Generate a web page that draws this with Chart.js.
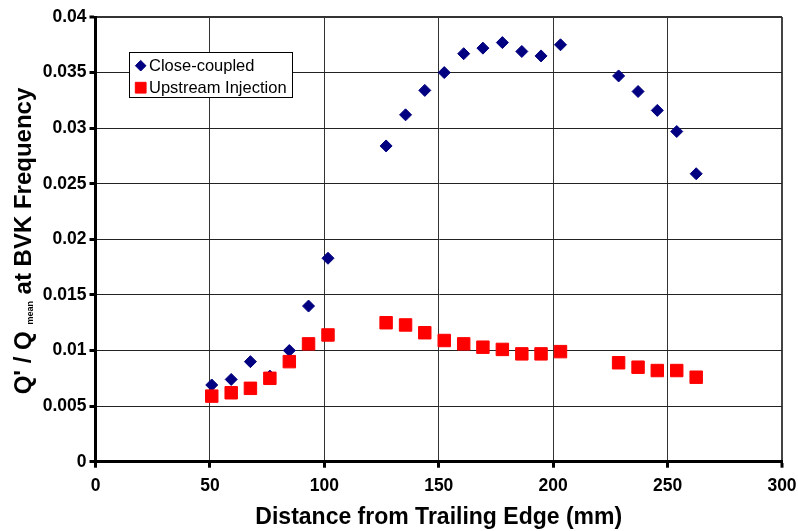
<!DOCTYPE html>
<html>
<head>
<meta charset="utf-8">
<script src="https://cdn.jsdelivr.net/npm/chart.js@4/dist/chart.umd.min.js"></script>
<style>
  html, body { margin: 0; padding: 0; background: #fff; }
  #wrap { width: 798px; height: 531px; }
</style>
</head>
<body>
<div id="wrap"><canvas id="qChart" width="798" height="531"></canvas></div>
<script>
// distance from trailing edge (mm)
const distance = [50.8, 59.3, 67.7, 76.2, 84.7, 93.1, 101.6, 127.0, 135.5, 143.9, 152.4,
                  160.9, 169.3, 177.8, 186.3, 194.7, 203.2, 228.6, 237.1, 245.5, 254.0, 262.5];
// Q'/Qmean at BVK frequency
const closeCoupled = [0.0069, 0.0074, 0.0090, 0.0077, 0.0100, 0.0140, 0.0183, 0.0284, 0.0312, 0.0334, 0.0350,
                      0.0367, 0.0372, 0.0377, 0.0369, 0.0365, 0.0375, 0.0347, 0.0333, 0.0316, 0.0297, 0.0259];
const upstreamInjection = [0.0059, 0.0062, 0.0066, 0.0075, 0.0090, 0.0106, 0.0114, 0.0125, 0.0123, 0.0116, 0.0109,
                           0.0106, 0.0103, 0.0101, 0.0097, 0.0097, 0.0099, 0.0089, 0.0085, 0.0082, 0.0082, 0.0076];
const seriesNames = ['Close-coupled', 'Upstream Injection'];
const xTicks = [0, 50, 100, 150, 200, 250, 300];
const yTicks = [0, 0.005, 0.01, 0.015, 0.02, 0.025, 0.03, 0.035, 0.04];

const FONT = 'Arial, "Liberation Sans", sans-serif';

function toPoints(ys) {
    return distance.map((x, i) => ({ x: x, y: ys[i] }));
}

// boxed legend sitting inside the plot area
const boxLegend = {
    id: 'boxLegend',
    afterDatasetsDraw(chart) {
        const ctx = chart.ctx;
        ctx.save();
        ctx.fillStyle = '#fff';
        ctx.strokeStyle = '#000';
        ctx.lineWidth = 1;
        ctx.fillRect(129.5, 52.5, 163, 45);
        ctx.strokeRect(129.5, 52.5, 163, 45);
        const rows = [65.7, 87.7];
        const legendRadius = { rectRot: 5.3, rect: 7.6 };
        chart.data.datasets.forEach((ds, i) => {
            const y = rows[i];
            ctx.fillStyle = ds.backgroundColor;
            ctx.strokeStyle = ds.borderColor;
            Chart.helpers.drawPoint(ctx, {
                pointStyle: ds.pointStyle,
                radius: legendRadius[ds.pointStyle],
                borderWidth: 1,
                rotation: 0
            }, 140.7, y);
            ctx.fillStyle = '#000';
            ctx.font = '16.5px ' + FONT;
            ctx.textAlign = 'left';
            ctx.textBaseline = 'middle';
            ctx.fillText(ds.label, 149, y + 0.5);
        });
        ctx.restore();
    }
};

// rotated y title with the "mean" subscript
const yTitle = {
    id: 'yTitle',
    afterDraw(chart) {
        const ctx = chart.ctx;
        const big = 'bold 24px ' + FONT;
        const small = 'bold 9px ' + FONT;
        const parts = [
            { t: "Q' / Q ", f: big, dy: 0 },
            { t: 'mean', f: small, dy: 1.5 },
            { t: ' at BVK Frequency', f: big, dy: 0 }
        ];
        let total = 0;
        parts.forEach(p => { ctx.font = p.f; p.w = ctx.measureText(p.t).width; total += p.w; });
        ctx.save();
        ctx.translate(31, 241);
        ctx.rotate(-Math.PI / 2);
        ctx.fillStyle = '#000';
        ctx.textBaseline = 'alphabetic';
        ctx.textAlign = 'left';
        let x = -total / 2;
        parts.forEach(p => {
            ctx.font = p.f;
            ctx.fillText(p.t, x, p.dy);
            x += p.w;
        });
        ctx.restore();
    }
};

const ctx = document.getElementById('qChart').getContext('2d');
new Chart(ctx, {
    type: 'scatter',
    data: {
        datasets: [
            {
                label: seriesNames[0],
                data: toPoints(closeCoupled),
                pointStyle: 'rectRot',
                pointRadius: 6,
                borderWidth: 1,
                backgroundColor: '#000080',
                borderColor: '#000080',
                order: 1
            },
            {
                label: seriesNames[1],
                data: toPoints(upstreamInjection),
                pointStyle: 'rect',
                pointRadius: 8.8,
                borderWidth: 1,
                backgroundColor: '#ff0000',
                borderColor: '#ff0000',
                order: 0
            }
        ]
    },
    options: {
        responsive: false,
        animation: false,
        devicePixelRatio: 1,
        layout: {
            padding: { top: 17, right: 16, left: 0, bottom: 0 }
        },
        plugins: {
            legend: { display: false },
            tooltip: { enabled: false }
        },
        scales: {
            x: {
                type: 'linear',
                min: 0,
                max: 300,
                afterBuildTicks: axis => { axis.ticks = xTicks.map(v => ({ value: v })); },
                afterFit: axis => {
                    axis.height = 69.3;
                    axis.paddingLeft = 0;
                    axis.paddingRight = 0;
                },
                ticks: {
                    color: '#000',
                    font: { family: FONT, size: 17.5, weight: 'bold' },
                    padding: 8,
                    maxRotation: 0
                },
                grid: {
                    color: c => c.tick && c.tick.value === 300 ? '#444' : '#333',
                    lineWidth: c => c.tick && c.tick.value === 300 ? 2 : 1,
                    tickLength: 6,
                    tickWidth: 3,
                    tickColor: '#000'
                },
                border: { color: '#000', width: 3 },
                title: {
                    display: true,
                    text: 'Distance from Trailing Edge (mm)',
                    color: '#000',
                    font: { family: FONT, size: 23, weight: 'bold' },
                    padding: { top: 0, bottom: 0 }
                }
            },
            y: {
                type: 'linear',
                min: 0,
                max: 0.04,
                afterBuildTicks: axis => { axis.ticks = yTicks.map(v => ({ value: v })); },
                afterFit: axis => {
                    axis.width = 95.5;
                    axis.paddingTop = 0;
                    axis.paddingBottom = 0;
                },
                ticks: {
                    color: '#000',
                    font: { family: FONT, size: 17.5, weight: 'bold' },
                    padding: 3,
                    callback: v => String(+v.toFixed(3))
                },
                grid: {
                    color: c => c.tick && c.tick.value === 0.04 ? '#333' : '#222',
                    lineWidth: c => c.tick && c.tick.value === 0.04 ? 2 : 1,
                    tickLength: 6,
                    tickWidth: 3,
                    tickColor: '#000'
                },
                border: { color: '#000', width: 3 }
            }
        }
    },
    plugins: [boxLegend, yTitle]
});
</script>
</body>
</html>
